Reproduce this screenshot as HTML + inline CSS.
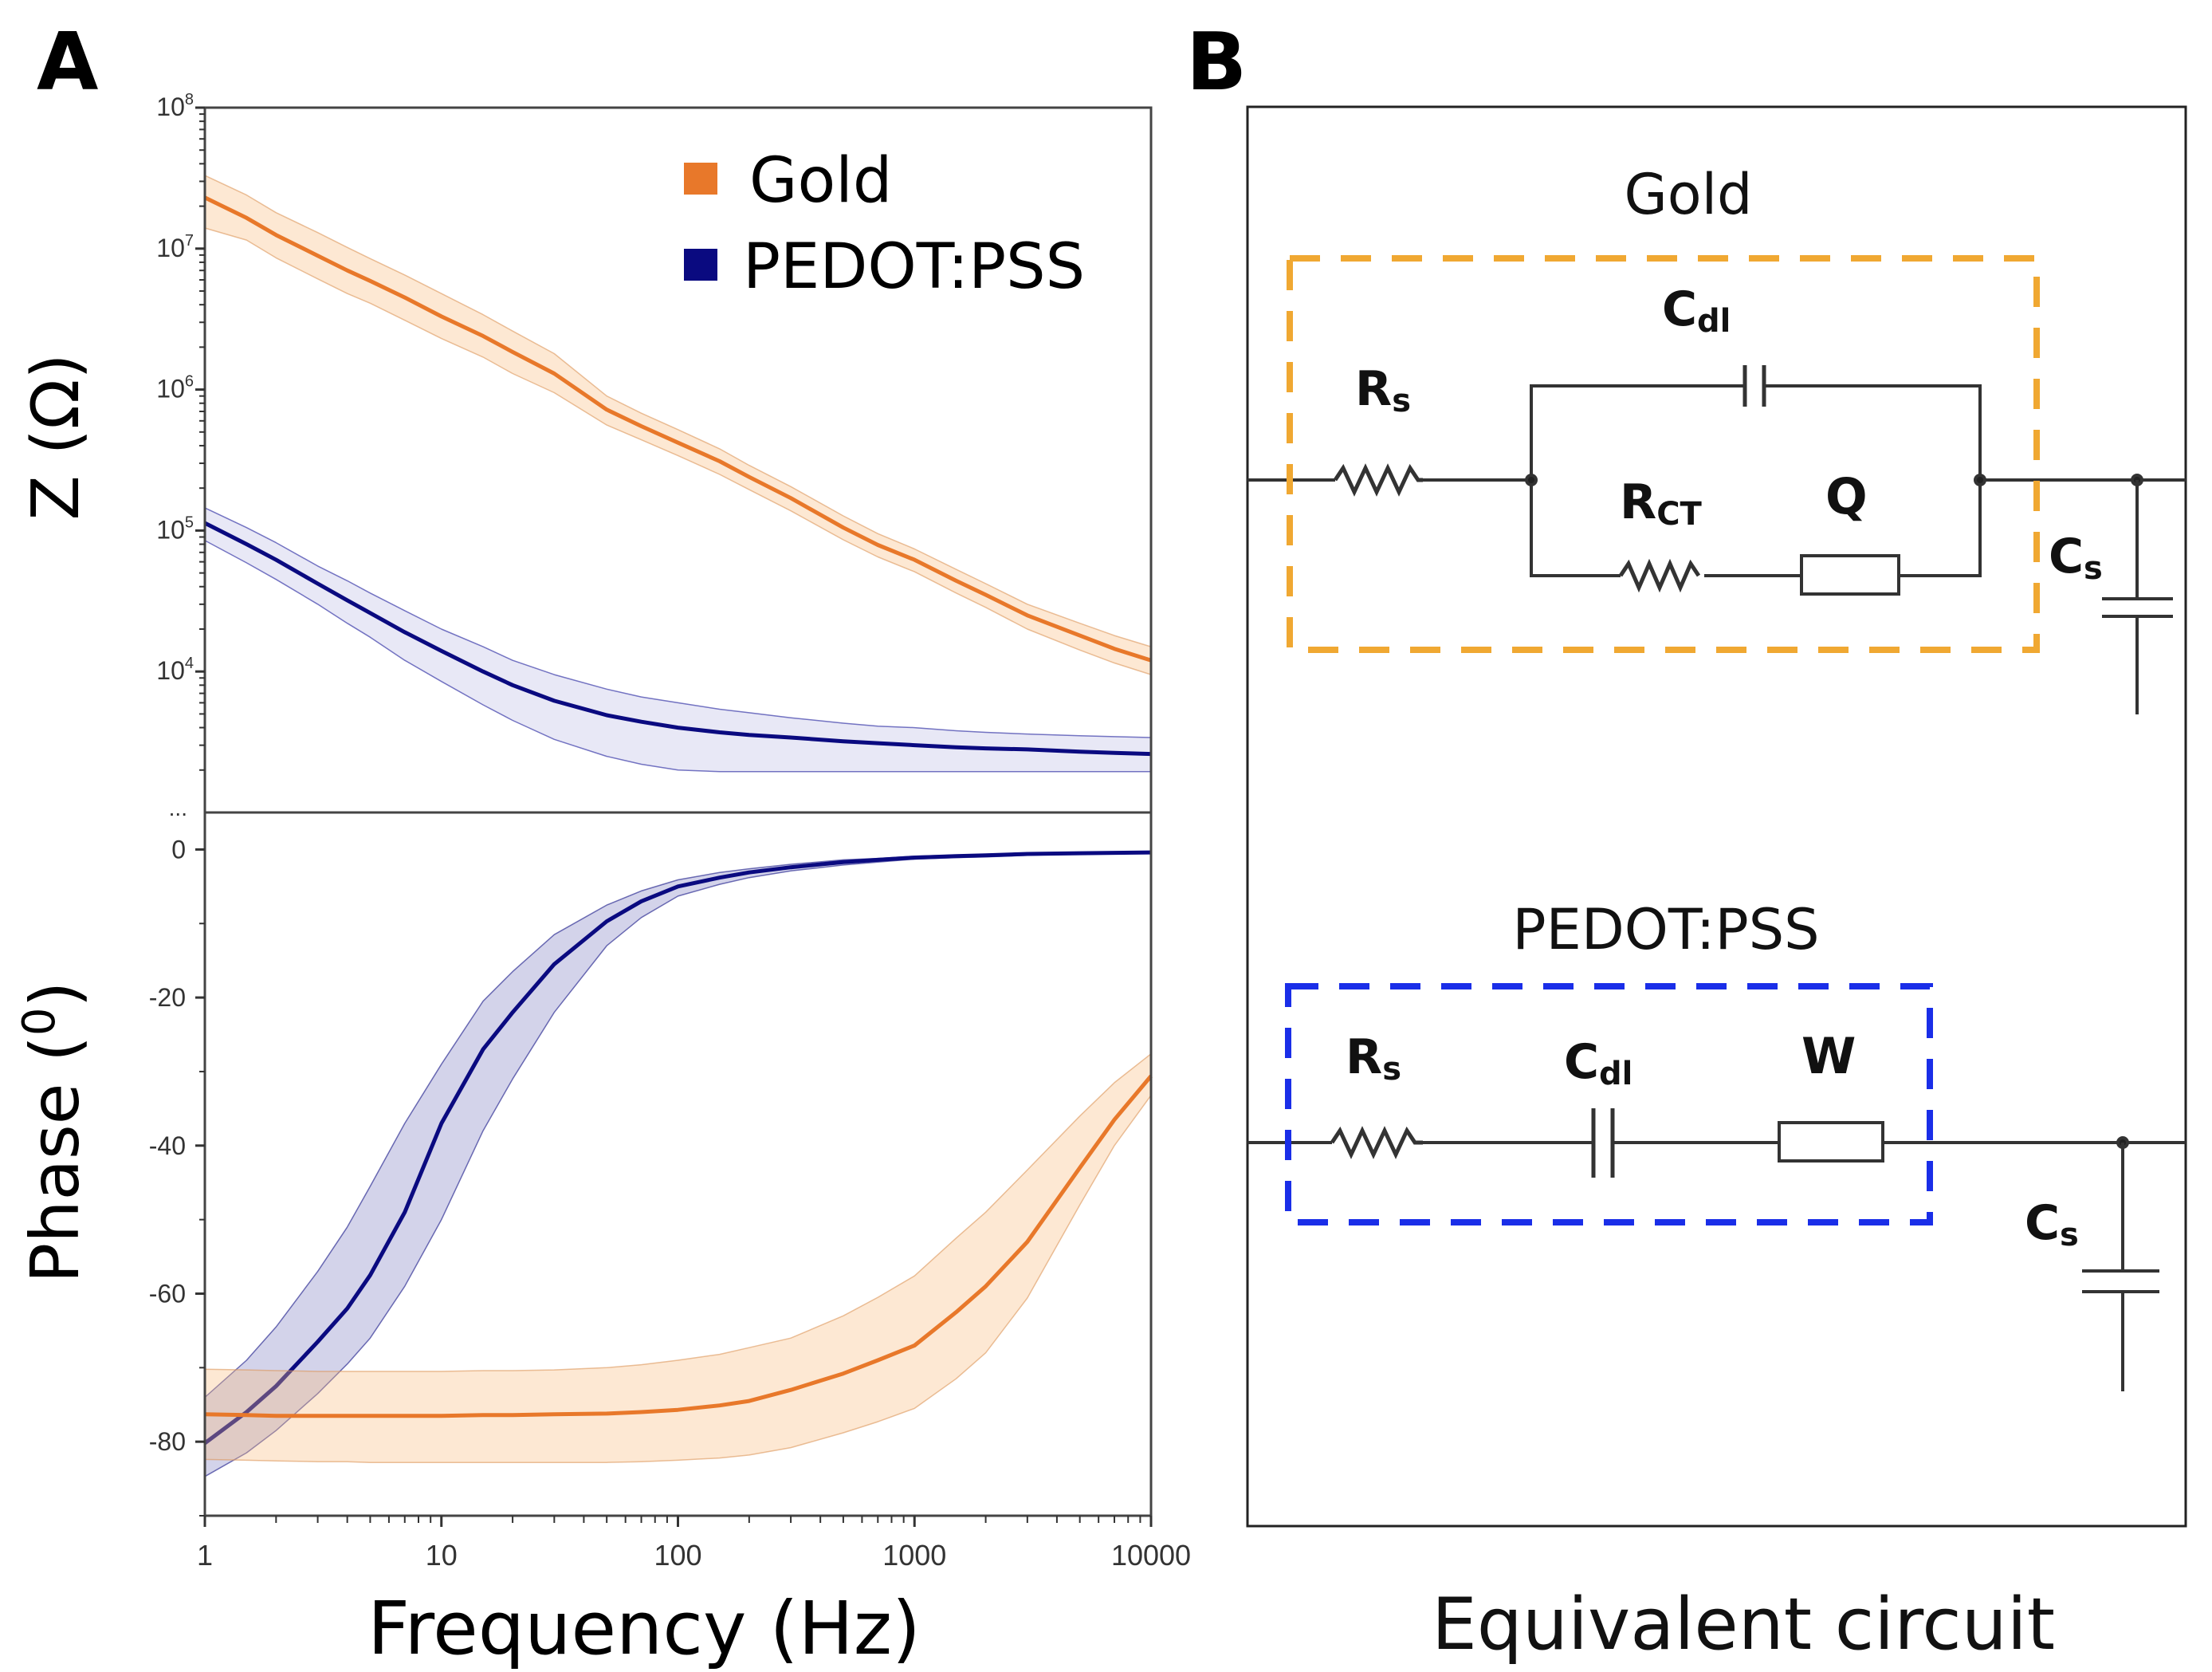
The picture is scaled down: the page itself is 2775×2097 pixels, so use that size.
<!DOCTYPE html>
<html><head><meta charset="utf-8">
<style>
html,body{margin:0;padding:0;background:#fff;}
svg{display:block;font-family:"Liberation Sans",sans-serif;}
</style></head>
<body>
<svg id="fig" width="2775" height="2097" viewBox="0 0 2775 2097" xmlns="http://www.w3.org/2000/svg">
<rect width="2775" height="2097" fill="#fff"/>
<text x="46" y="112" font-size="100" font-weight="bold" font-family="DejaVu Sans, sans-serif">A</text>
<text x="1488" y="112" font-size="100" font-weight="bold" font-family="DejaVu Sans, sans-serif">B</text>
<g id="chart"></g>
<text transform="translate(98,548) rotate(-90)" text-anchor="middle" font-size="82" font-family="DejaVu Sans, sans-serif">Z (Ω)</text>
<text transform="translate(98,1420) rotate(-90)" text-anchor="middle" font-size="84" font-family="DejaVu Sans, sans-serif">Phase (<tspan dy="-30" font-size="56">0</tspan><tspan dy="30">)</tspan></text>
<text x="808" y="2074" text-anchor="middle" font-size="92" font-family="DejaVu Sans, sans-serif">Frequency (Hz)</text>
<g>
<rect x="858" y="204" width="42" height="40" fill="#e8782a"/>
<text x="940" y="253" font-size="78" font-family="DejaVu Sans, sans-serif">Gold</text>
<rect x="858" y="312" width="42" height="40" fill="#0a0a80"/>
<text x="932" y="361" font-size="78" font-family="DejaVu Sans, sans-serif">PEDOT:PSS</text>
</g>
<!-- Panel B -->
<g stroke="#333" stroke-width="4" fill="none">
<rect x="1565" y="134" width="1177" height="1780" stroke="#222" stroke-width="3"/>
<path d="M1565 602 H1675 M1785 602 H1921 M2484 602 H2742"/>
<path stroke-width="5" d="M1675 602 l10 -15 l14 30 l14 -30 l14 30 l14 -30 l14 30 l14 -30 l10 15 H1785"/>
<path d="M1921 602 V484 H2187 M2215 484 H2484 V722 H2382 M2260 722 H2138 M2033 722 H1921 V602"/>
<path stroke-width="5" d="M2189 458 V510 M2213 458 V510"/>
<path stroke-width="5" d="M2033 722 l10 -15 l13 30 l13 -30 l13 30 l13 -30 l13 30 l13 -30 l10 15"/>
<rect x="2260" y="697" width="122" height="48"/>
<circle cx="1921" cy="602" r="6" fill="#222"/>
<circle cx="2484" cy="602" r="6" fill="#222"/>
<circle cx="2681" cy="602" r="6" fill="#222"/>
<path d="M2681 602 V751 M2637 751 H2726 M2637 773 H2726 M2681 773 V896"/>
<rect x="1618" y="324" width="937" height="491" stroke="#f0a832" stroke-width="8" stroke-dasharray="38 26"/>
<path d="M1565 1433 H1671 M1785 1433 H1998 M2024 1433 H2232 M2362 1433 H2742"/>
<path stroke-width="5" d="M1671 1433 l10 -15 l14 30 l14 -30 l14 30 l14 -30 l14 30 l14 -30 l10 15 H1785"/>
<path stroke-width="5" d="M1999 1390 V1477 M2023 1390 V1477"/>
<rect x="2232" y="1408" width="130" height="48"/>
<circle cx="2663" cy="1433" r="6" fill="#222"/>
<path d="M2663 1433 V1594 M2612 1594 H2709 M2612 1620 H2709 M2663 1620 V1745"/>
<rect x="1616" y="1237" width="805" height="296" stroke="#1a2ee8" stroke-width="8" stroke-dasharray="38 26"/>
</g>
<g fill="#111" font-family="DejaVu Sans, sans-serif">
<text x="2118" y="268" text-anchor="middle" font-size="70">Gold</text>
<text x="1700" y="508" font-size="60" font-weight="bold">R<tspan font-size="40" dy="8">s</tspan></text>
<text x="2085" y="408" font-size="60" font-weight="bold">C<tspan font-size="40" dy="8">dl</tspan></text>
<text x="2032" y="650" font-size="60" font-weight="bold">R<tspan font-size="40" dy="8">CT</tspan></text>
<text x="2290" y="644" font-size="62" font-weight="bold">Q</text>
<text x="2570" y="718" font-size="60" font-weight="bold">C<tspan font-size="40" dy="8">s</tspan></text>
<text x="2090" y="1190" text-anchor="middle" font-size="70">PEDOT:PSS</text>
<text x="1688" y="1346" font-size="60" font-weight="bold">R<tspan font-size="40" dy="8">s</tspan></text>
<text x="1962" y="1352" font-size="60" font-weight="bold">C<tspan font-size="40" dy="8">dl</tspan></text>
<text x="2260" y="1346" font-size="62" font-weight="bold">W</text>
<text x="2540" y="1554" font-size="60" font-weight="bold">C<tspan font-size="40" dy="8">s</tspan></text>
<text x="2187" y="2068" text-anchor="middle" font-size="90">Equivalent circuit</text>
</g>
</svg>
<script>
// ---- data ----
const freqs = [1, 1.5, 2, 3, 4, 5, 7, 10, 15, 20, 30, 50, 70, 100, 150, 200, 300, 500, 700, 1000, 1500, 2000, 3000, 5000, 7000, 10000];
const zGold = [2.3e7, 1.65e7, 1.25e7, 8.9e6, 7e6, 5.9e6, 4.5e6, 3.3e6, 2.4e6, 1.85e6, 1.3e6, 7.2e5, 5.5e5, 4.2e5, 3.1e5, 2.4e5, 1.7e5, 1.05e5, 7.9e4, 6.2e4, 4.4e4, 3.5e4, 2.5e4, 1.8e4, 1.45e4, 1.2e4];
const zGoldLo = [1.4e7, 1.15e7, 8.6e6, 6.1e6, 4.8e6, 4.1e6, 3.1e6, 2.3e6, 1.7e6, 1.3e6, 9.5e5, 5.6e5, 4.4e5, 3.4e5, 2.5e5, 1.95e5, 1.38e5, 8.6e4, 6.5e4, 5.1e4, 3.6e4, 2.85e4, 2.0e4, 1.42e4, 1.15e4, 9.5e3];
const zGoldHi = [3.3e7, 2.4e7, 1.8e7, 1.3e7, 1.02e7, 8.5e6, 6.5e6, 4.8e6, 3.4e6, 2.6e6, 1.8e6, 9e5, 6.8e5, 5.2e5, 3.8e5, 2.9e5, 2.05e5, 1.27e5, 9.5e4, 7.4e4, 5.3e4, 4.2e4, 3.0e4, 2.2e4, 1.8e4, 1.5e4];
const zPedot = [1.13e5, 8e4, 6.2e4, 4.2e4, 3.2e4, 2.6e4, 1.9e4, 1.4e4, 1.0e4, 8e3, 6.2e3, 4.9e3, 4.4e3, 4.0e3, 3.7e3, 3.55e3, 3.4e3, 3.2e3, 3.1e3, 3.0e3, 2.9e3, 2.85e3, 2.8e3, 2.7e3, 2.65e3, 2.6e3];
const zPedotLo = [8.5e4, 5.9e4, 4.5e4, 3e4, 2.2e4, 1.75e4, 1.2e4, 8.5e3, 5.8e3, 4.5e3, 3.3e3, 2.5e3, 2.2e3, 2.0e3, 1.95e3, 1.95e3, 1.95e3, 1.95e3, 1.95e3, 1.95e3, 1.95e3, 1.95e3, 1.95e3, 1.95e3, 1.95e3, 1.95e3];
const zPedotHi = [1.45e5, 1.05e5, 8.2e4, 5.6e4, 4.4e4, 3.6e4, 2.7e4, 2.0e4, 1.5e4, 1.2e4, 9.5e3, 7.5e3, 6.6e3, 6e3, 5.4e3, 5.1e3, 4.7e3, 4.3e3, 4.1e3, 4.0e3, 3.8e3, 3.7e3, 3.6e3, 3.5e3, 3.45e3, 3.4e3];
const phPedot = [-80.2, -76, -72.5, -66.5, -62, -57.5, -49, -37, -27, -22, -15.5, -9.7, -7, -5, -3.8, -3.1, -2.4, -1.7, -1.4, -1.1, -0.9, -0.8, -0.6, -0.5, -0.45, -0.4];
const phPedotLo = [-84.7, -81.5, -78.5, -73.5, -69.5, -66, -59, -50, -38, -31, -22, -13, -9.2, -6.3, -4.7, -3.8, -2.9, -2.1, -1.7, -1.3, -1.1, -1.0, -0.8, -0.6, -0.55, -0.5];
const phPedotHi = [-74, -69, -64.5, -57, -51, -45.5, -37, -29, -20.5, -16.5, -11.5, -7.5, -5.6, -4.1, -3.1, -2.6, -2.0, -1.4, -1.2, -0.9, -0.75, -0.65, -0.5, -0.4, -0.35, -0.3];
const phGold = [-76.3, -76.4, -76.5, -76.5, -76.5, -76.5, -76.5, -76.5, -76.4, -76.4, -76.3, -76.2, -76, -75.7, -75.1, -74.5, -73, -70.8, -69, -67, -62.5, -59, -53, -43, -36.5, -30.6];
const phGoldLo = [-82.4, -82.5, -82.6, -82.7, -82.7, -82.8, -82.8, -82.8, -82.8, -82.8, -82.8, -82.8, -82.7, -82.5, -82.2, -81.8, -80.8, -78.8, -77.3, -75.5, -71.5, -68, -60.6, -48, -40, -33.2];
const phGoldHi = [-70.2, -70.3, -70.4, -70.5, -70.5, -70.5, -70.5, -70.5, -70.4, -70.4, -70.3, -70, -69.6, -69, -68.2, -67.3, -66, -63, -60.5, -57.6, -52.5, -49, -43.3, -36, -31.5, -27.6];
const xTickLabels = ["1", "10", "100", "1000", "10000"];
const zTickExps = [8, 7, 6, 5, 4];
const phTickLabels = [0, -20, -40, -60, -80];

// ---- axes ----
const X0 = 257, X1 = 1444;
const ZT = 135, ZB = 1019;
const PT = 1019, PB = 1901;
const xs = f => X0 + (Math.log10(f) / 4) * (X1 - X0);
const yz = v => ZT + (8 - Math.log10(v)) / 5 * (ZB - ZT);
const yp = v => PT + (5 - v) / 95 * (PB - PT);
const NS = "http://www.w3.org/2000/svg";
const g = document.getElementById('chart');
function mk(tag, attrs, parent) {
  const e = document.createElementNS(NS, tag);
  for (const k in attrs) e.setAttribute(k, attrs[k]);
  (parent || g).appendChild(e);
  return e;
}
function linePath(arr, fy) {
  return freqs.map((f, i) => (i ? 'L' : 'M') + xs(f).toFixed(1) + ' ' + fy(arr[i]).toFixed(1)).join(' ');
}
function bandPath(lo, hi, fy) {
  let d = freqs.map((f, i) => (i ? 'L' : 'M') + xs(f).toFixed(1) + ' ' + fy(hi[i]).toFixed(1)).join(' ');
  for (let i = freqs.length - 1; i >= 0; i--) d += ' L' + xs(freqs[i]).toFixed(1) + ' ' + fy(lo[i]).toFixed(1);
  return d + ' Z';
}
function series(name, lo, hi, mid, fy, fill, edge, col) {
  const b = mk('path', {d: bandPath(lo, hi, fy), fill: fill, stroke: edge, 'stroke-width': 1.5, 'stroke-linejoin': 'round'});
  
  
  const l = mk('path', {d: linePath(mid, fy), fill: 'none', stroke: col, 'stroke-width': 5, 'stroke-linejoin': 'round'});
  
  
}
series('gold-impedance', zGoldLo, zGoldHi, zGold, yz, 'rgba(250,190,130,0.35)', 'rgba(220,150,90,0.6)', '#e8782a');
series('pedot-impedance', zPedotLo, zPedotHi, zPedot, yz, 'rgba(150,150,215,0.22)', 'rgba(60,60,170,0.7)', '#0a0a80');
series('pedot-phase', phPedotLo, phPedotHi, phPedot, yp, 'rgba(110,110,185,0.3)', 'rgba(50,50,150,0.7)', '#0a0a80');
series('gold-phase', phGoldLo, phGoldHi, phGold, yp, 'rgba(250,190,130,0.35)', 'rgba(220,150,90,0.6)', '#e8782a');

const f1 = mk('rect', {x: X0, y: ZT, width: X1 - X0, height: ZB - ZT, fill: 'none', stroke: '#444', 'stroke-width': 3});


const f2 = mk('rect', {x: X0, y: PT, width: X1 - X0, height: PB - PT, fill: 'none', stroke: '#444', 'stroke-width': 3});



zTickExps.forEach(e => {
  const y = yz(Math.pow(10, e));
  mk('line', {x1: X0 - 12, x2: X0, y1: y, y2: y, stroke: '#333', 'stroke-width': 3});
  const t = mk('text', {x: X0 - 14, y: y + 10, 'text-anchor': 'end', 'font-size': 32, fill: '#333'});
  
  
  t.textContent = '10';
  const s = mk('tspan', {dy: -14, 'font-size': 20}, t);
  s.textContent = String(e);
  for (let m = 2; m <= 9; m++) {
    const ym = yz(m * Math.pow(10, e - 1));
    mk('line', {x1: X0 - 7, x2: X0, y1: ym, y2: ym, stroke: '#333', 'stroke-width': 2});
  }
});
const dots = mk('text', {x: X0 - 22, y: ZB + 4, 'text-anchor': 'end', 'font-size': 28, fill: '#333'});


dots.textContent = '...';

phTickLabels.forEach(v => {
  const y = yp(v);
  mk('line', {x1: X0 - 12, x2: X0, y1: y, y2: y, stroke: '#333', 'stroke-width': 3});
  const t = mk('text', {x: X0 - 24, y: y + 11, 'text-anchor': 'end', 'font-size': 32, fill: '#333'});
  
  
  t.textContent = String(v);
  mk('line', {x1: X0 - 7, x2: X0, y1: yp(v - 10), y2: yp(v - 10), stroke: '#333', 'stroke-width': 2});
});

xTickLabels.forEach((lab, i) => {
  const x = xs(Math.pow(10, i));
  mk('line', {x1: x, x2: x, y1: PB, y2: PB + 14, stroke: '#333', 'stroke-width': 3});
  const t = mk('text', {x: x, y: PB + 62, 'text-anchor': 'middle', 'font-size': 36, fill: '#333'});
  
  
  t.textContent = lab;
  if (i < 4) for (let m = 2; m <= 9; m++) {
    const xm = xs(m * Math.pow(10, i));
    mk('line', {x1: xm, x2: xm, y1: PB, y2: PB + 9, stroke: '#333', 'stroke-width': 2});
  }
});
</script>
</body></html>
